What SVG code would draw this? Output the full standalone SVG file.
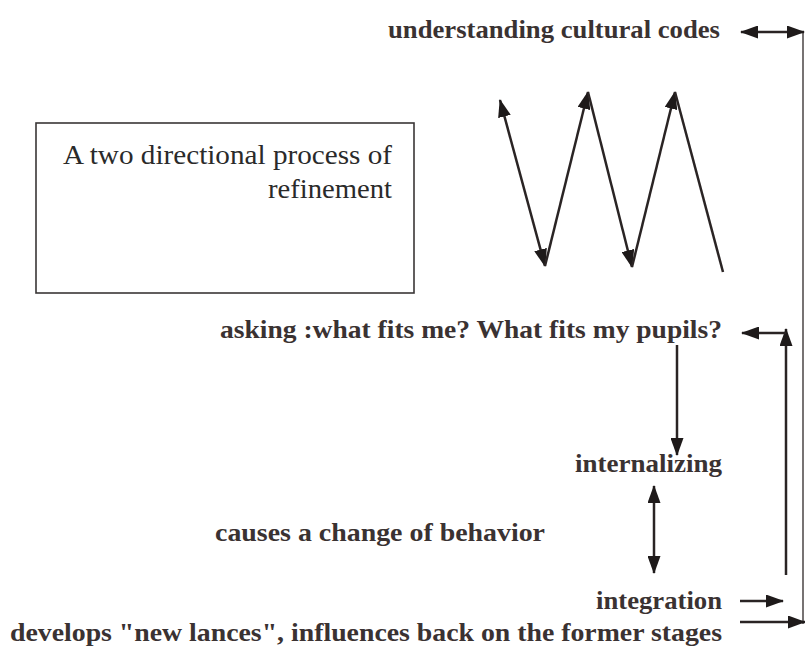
<svg xmlns="http://www.w3.org/2000/svg" width="805" height="646" viewBox="0 0 805 646">
<style>
.lbl{font-family:"Liberation Serif","Times New Roman",serif;font-weight:bold;font-size:26px;fill:#3a3232;text-anchor:end}
.box{font-family:"Liberation Serif","Times New Roman",serif;font-size:27px;fill:#2a2a2a;text-anchor:end}
.ln{stroke:#2a2424;stroke-width:2.5;fill:none}
.thin{stroke:#4a4444;stroke-width:1.5;fill:none}
</style>
<defs>
<marker id="ah" markerUnits="userSpaceOnUse" markerWidth="18" markerHeight="13" refX="17" refY="6.5" orient="auto-start-reverse" viewBox="0 0 18 13">
<path d="M0,0 L18,6.5 L0,13 Z" fill="#1e1a1a"/>
</marker>
</defs>
<rect width="805" height="646" fill="#ffffff"/>
<g id="box">
<rect x="36" y="123" width="378" height="170" fill="none" stroke="#3a3636" stroke-width="1.6"/>
<text class="box" x="392" y="164" textLength="329" lengthAdjust="spacingAndGlyphs">A two directional process of</text>
<text class="box" x="392" y="198" textLength="124" lengthAdjust="spacingAndGlyphs">refinement</text>
</g>
<g id="understanding"><text class="lbl" x="720" y="38" textLength="332" lengthAdjust="spacingAndGlyphs">understanding cultural codes</text></g>
<g id="asking"><text class="lbl" x="722" y="338" textLength="502" lengthAdjust="spacingAndGlyphs">asking :what fits me? What fits my pupils?</text></g>
<g id="internalizing"><text class="lbl" x="722" y="472" textLength="147" lengthAdjust="spacingAndGlyphs">internalizing</text></g>
<g id="causes"><text class="lbl" x="545" y="541" textLength="330" lengthAdjust="spacingAndGlyphs">causes a change of behavior</text></g>
<g id="integration"><text class="lbl" x="722" y="609" textLength="126" lengthAdjust="spacingAndGlyphs">integration</text></g>
<g id="develops"><text class="lbl" x="722" y="641" textLength="712" lengthAdjust="spacingAndGlyphs">develops "new lances", influences back on the former stages</text></g>
<g id="connectors">
<line class="thin" x1="803" y1="31" x2="803" y2="624"/>
<line class="ln" x1="804" y1="32" x2="741" y2="32" marker-end="url(#ah)" marker-start="url(#ah)"/>
<polyline class="ln" points="545,266 500,100" marker-end="url(#ah)" marker-start="url(#ah)"/>
<line class="ln" x1="545" y1="266" x2="588" y2="92" marker-end="url(#ah)"/>
<line class="ln" x1="588" y1="92" x2="632" y2="267" marker-end="url(#ah)"/>
<line class="ln" x1="632" y1="267" x2="675" y2="92" marker-end="url(#ah)"/>
<line class="ln" x1="675" y1="92" x2="723" y2="272"/>
<line class="ln" x1="677" y1="345" x2="677" y2="455" marker-end="url(#ah)"/>
<line class="ln" x1="654" y1="486" x2="654" y2="573" marker-end="url(#ah)" marker-start="url(#ah)"/>
<line class="ln" x1="786" y1="575" x2="786" y2="329" marker-end="url(#ah)"/>
<line class="ln" x1="786" y1="333" x2="742" y2="333" marker-end="url(#ah)"/>
<line class="ln" x1="740" y1="601" x2="783" y2="601" marker-end="url(#ah)"/>
<line class="ln" x1="740" y1="622" x2="805" y2="622" marker-end="url(#ah)"/>
</g>
</svg>
